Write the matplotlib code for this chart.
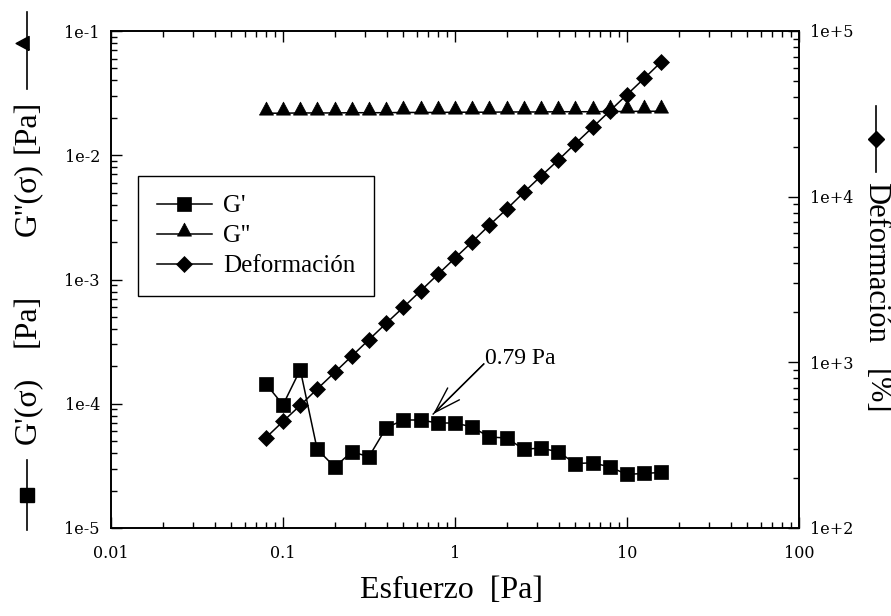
import numpy as np
import matplotlib.pyplot as plt
from matplotlib.lines import Line2D
from matplotlib.ticker import FuncFormatter, NullFormatter

# stress sweep (Pa), 10 points per decade
stress = [0.0794, 0.1, 0.126, 0.158, 0.2, 0.251, 0.316, 0.398, 0.501, 0.631,
          0.794, 1.0, 1.26, 1.58, 2.0, 2.51, 3.16, 3.98, 5.01, 6.31,
          7.94, 10.0, 12.6, 15.8]

# storage modulus G' (Pa)
g_storage = [1.45e-4, 9.8e-5, 1.88e-4, 4.3e-5, 3.1e-5, 4.1e-5, 3.75e-5, 6.4e-5,
             7.4e-5, 7.4e-5, 7.0e-5, 7.0e-5, 6.5e-5, 5.4e-5, 5.3e-5, 4.3e-5,
             4.4e-5, 4.1e-5, 3.3e-5, 3.35e-5, 3.1e-5, 2.7e-5, 2.75e-5, 2.8e-5]

# loss modulus G'' (Pa)
g_loss = [0.0218, 0.0218, 0.0219, 0.0219, 0.0219, 0.0220, 0.0220, 0.0220,
          0.0221, 0.0221, 0.0221, 0.0222, 0.0222, 0.0222, 0.0223, 0.0223,
          0.0223, 0.0224, 0.0224, 0.0224, 0.0225, 0.0225, 0.0226, 0.0226]

# strain (%)
strain = [350, 440, 550, 690, 870, 1090, 1370, 1720, 2150, 2700,
          3390, 4260, 5340, 6710, 8420, 10600, 13300, 16600, 20900, 26200,
          32900, 41300, 51800, 65000]

x_ticks = [0.01, 0.1, 1, 10, 100]
x_ticklabels = ["0.01", "0.1", "1", "10", "100"]

W, H = 891, 616
SERIF = "Liberation Serif"
TICKFONT = "DejaVu Serif"

# triangle resting on the line (base at the data value)
tri_up = [(-21.5, -5), (21.5, -5), (0, 35), (-21.5, -5)]
tri_left = [(5, -21.5), (5, 21.5), (-35, 0), (5, -21.5)]

fig = plt.figure(figsize=(W / 100, H / 100), dpi=100)
ax = fig.add_axes([111 / W, 1 - 528 / H, (799 - 111) / W, (528 - 31) / H])
ax2 = ax.twinx()

mk = dict(color="k", lw=1.1, mfc="k", mec="k", mew=0.5)
h1, = ax.plot(stress, g_storage, marker="s", ms=10.5, **mk)
h2, = ax.plot(stress, g_loss, marker=tri_up, ms=16.4, **mk)
h3, = ax2.plot(stress, strain, marker="D", ms=8.2, **mk)

ax.set_xscale("log")
ax.set_yscale("log")
ax.set_xlim(0.01, 100)
ax.set_ylim(1e-5, 1e-1)
ax2.set_yscale("log")
ax2.set_ylim(1e2, 1e5)

ax.set_xticks(x_ticks)
ax.set_xticklabels(x_ticklabels)
ax.xaxis.set_minor_formatter(NullFormatter())
ax.yaxis.set_major_formatter(FuncFormatter(lambda v, p: "1e%d" % round(np.log10(v))))
ax.yaxis.set_minor_formatter(NullFormatter())
ax2.yaxis.set_major_formatter(FuncFormatter(lambda v, p: "1e%+d" % round(np.log10(v))))
ax2.yaxis.set_minor_formatter(NullFormatter())

ax.tick_params(which="both", direction="in", top=True, right=False, width=1.0)
ax.tick_params(which="major", length=8)
ax.tick_params(which="minor", length=4.5)
ax.tick_params(axis="x", pad=12)
ax.tick_params(axis="y", pad=8)
ax2.tick_params(which="both", direction="in", width=1.0, pad=8)
ax2.tick_params(which="major", length=8)
ax2.tick_params(which="minor", length=4.5)
for a in (ax, ax2):
    for lab in a.get_xticklabels() + a.get_yticklabels():
        lab.set_fontfamily(TICKFONT)
        lab.set_fontsize(11.5)
    for s in a.spines.values():
        s.set_linewidth(1.2)

leg = ax2.legend([h1, h2, h3], ["G'", "G''", "Deformación"],
                 loc="upper left", bbox_to_anchor=(138 / W, 1 - 176 / H),
                 bbox_transform=fig.transFigure, borderaxespad=0,
                 prop={"family": SERIF, "size": 18}, fancybox=False,
                 edgecolor="k", framealpha=1, handlelength=2.2,
                 handletextpad=0.45, labelspacing=0.3, borderpad=0.75)
leg.get_frame().set_linewidth(1.0)

# yield point callout at 0.79 Pa: shaft plus open arrow head
tip = (stress[10] * 0.94, g_storage[10] * 1.18)
start = (1.47, 2.09e-4)
ax.plot([start[0], tip[0]], [start[1], tip[1]], color="k", lw=1.0)
ax.annotate("", xy=tip, xytext=start,
            arrowprops=dict(arrowstyle="->,head_length=1.9,head_width=0.6",
                            mutation_scale=10, shrinkA=0, shrinkB=0,
                            lw=1.0, color="k"))
ax.text(1.5, 2.3e-4, "0.79 Pa", va="center", ha="left",
        family=SERIF, fontsize=17)

# axis titles
fig.text(451 / W, 1 - 591 / H, "Esfuerzo  [Pa]", ha="center", va="center",
         family=SERIF, fontsize=23)

lx = 27 / W
for txt, yc in [("G'(σ)", 410), ("[Pa]", 320), ("G''(σ)", 200), ("[Pa]", 126)]:
    fig.text(lx, 1 - yc / H, txt, rotation=90, ha="center", va="center",
             family=SERIF, fontsize=23)
fig.add_artist(Line2D([lx, lx], [1 - 460 / H, 1 - 530 / H], transform=fig.transFigure,
                      color="k", lw=1.2))
fig.add_artist(Line2D([lx], [1 - 495 / H], transform=fig.transFigure, marker="s",
                      ms=10.5, color="k"))
fig.add_artist(Line2D([lx, lx], [1 - 12 / H, 1 - 89 / H], transform=fig.transFigure,
                      color="k", lw=1.2))
fig.add_artist(Line2D([lx], [1 - 43 / H], transform=fig.transFigure, marker=tri_left,
                      ms=16.4, color="k"))

rx = 876 / W
for txt, yc in [("Deformación", 262), ("[%]", 392)]:
    fig.text(rx, 1 - yc / H, txt, rotation=270, ha="center", va="center",
             family=SERIF, fontsize=22)
fig.add_artist(Line2D([rx, rx], [1 - 106 / H, 1 - 172 / H], transform=fig.transFigure,
                      color="k", lw=1.2))
fig.add_artist(Line2D([rx], [1 - 139 / H], transform=fig.transFigure, marker="D",
                      ms=8.2, color="k"))

fig.savefig("out.png", dpi=100)
